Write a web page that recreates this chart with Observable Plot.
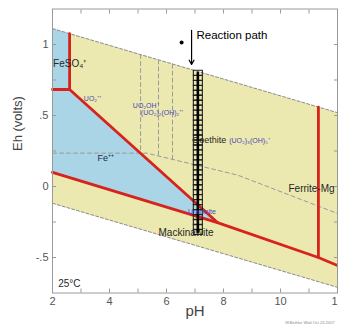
<!DOCTYPE html>
<html><head><meta charset="utf-8">
<script src="https://cdn.jsdelivr.net/npm/d3@7"></script>
<script src="https://cdn.jsdelivr.net/npm/@observablehq/plot@0.6"></script>
<style>html,body{margin:0;padding:0;background:#fff;} svg{display:block;}</style>
</head><body><div id="chart"></div>
<script>
// ---- data ----
const pHDomain = [2, 12];
const ehDomain = [-0.75, 1.25];
const xTicksMajor = [2, 4, 6, 8, 10, 12];
const xTicksMinor = [2, 3, 4, 5, 6, 7, 8, 9, 10, 11, 12];
const yTicksMajor = [-0.5, 0, 0.5, 1];
const yTickLabels = ["-.5", "0", ".5", "1"];
const yTicksMinor = [-0.5, -0.25, 0, 0.25, 0.5, 0.75, 1];

// water stability limits
const waterUpper = [[2, 1.112], [12, 0.52]];
const waterLower = [[2, -0.118], [12, -0.71]];
const stabilityZone = [[2, 1.112], [12, 0.52], [12, -0.71], [2, -0.118], [2, 1.112]];
// aqueous iron fields
const feso4Zone = [[2, 1.112], [2.6, 1.076], [2.6, 0.683], [2, 0.683], [2, 1.112]];
const fe2Zone = [[2, 0.683], [2.6, 0.683], [7.79, -0.254], [2, 0.10], [2, 0.683]];
// iron mineral boundaries (red)
const redBoundaries = [
  [[2.6, 1.076], [2.6, 0.683]],
  [[2, 0.683], [2.6, 0.683], [7.79, -0.254]],
  [[2, 0.10], [7.79, -0.254], [11.33, -0.50], [12, -0.556]],
  [[11.33, 0.559], [11.33, -0.50]]
];
// uranium boundaries (grey dashed)
const uraniumBoundaries = [
  [[2, 0.235], [5.3, 0.235], [8.5, 0.08], [12, -0.19]],
  [[5.09, 0.929], [5.09, 0.235]],
  [[5.72, 0.891], [5.72, 0.215]],
  [[6.21, 0.862], [6.21, 0.191]]
];
// reaction path
const pathPH = 7.1;
const pathEh = [0.800, 0.765, 0.730, 0.695, 0.660, 0.625, 0.590, 0.555, 0.520, 0.485,
  0.450, 0.415, 0.380, 0.345, 0.310, 0.275, 0.240, 0.205, 0.170, 0.135, 0.100, 0.065,
  0.030, -0.005, -0.040, -0.075, -0.110, -0.145, -0.180, -0.215, -0.250, -0.285, -0.320];

// labels
const labelText = ["FeSO₄⁺", "UO₂⁺⁺", "UO₂OH⁺", "(UO₂)₂(OH)₂⁺⁺", "Fe⁺⁺", "Goethite", "(UO₂)₃(OH)₅⁺", "Ferrite-Mg", "Mackinawite", "Uraninite", "25°C"];
const labelPH = [2.02, 3.1, 4.82, 5.1, 3.58, 6.9, 8.2, 10.28, 5.72, 6.75, 2.2];
const labelEh = [0.866, 0.62, 0.57, 0.52, 0.197, 0.324, 0.324, -0.014, -0.324, -0.176, -0.683];
const labelKind = ["dark", "blue", "blue", "blue", "navy", "mid", "blue", "dark", "dark", "blue", "dark"];

// ---- build tables ----
const segs = (list) => list.flatMap((pts, i) => pts.map(([x, y]) => ({x, y, z: i})));
const pts = (list) => list.map(([x, y]) => ({x, y}));
const pathData = pathEh.map(e => ({x: pathPH, y: e}));
const labels = labelText.map((t, i) => ({t, x: labelPH[i], y: labelEh[i], k: labelKind[i]}));
const colorOf = {dark: "#262626", mid: "#262626", blue: "#4646b4", navy: "#1e2850"};
const sizeOf = {dark: 10, mid: 9, blue: 7, navy: 9};

const cell = {draw(ctx) { ctx.rect(-4.5, -2.6, 9, 5.2); }};
const font = "Arial, 'Liberation Sans', Helvetica, sans-serif";

const plot = Plot.plot({
  width: 338, height: 327,
  marginLeft: 52, marginRight: 1, marginTop: 8.5, marginBottom: 34.5,
  x: {domain: pHDomain, label: null},
  y: {domain: ehDomain, label: null},
  style: {fontFamily: font, fontSize: "11px", color: "#555", background: "#fff", overflow: "visible"},
  marks: [
    Plot.line(pts(stabilityZone), {x: "x", y: "y", fill: "#ece9b0", stroke: "none"}),
    Plot.line(pts(feso4Zone), {x: "x", y: "y", fill: "#a9d5e6", stroke: "none"}),
    Plot.line(pts(fe2Zone), {x: "x", y: "y", fill: "#a9d5e6", stroke: "none"}),
    Plot.line(segs([waterUpper, waterLower]), {x: "x", y: "y", z: "z", stroke: "#8a8a8a", strokeWidth: 1, strokeDasharray: "3,2"}),
    Plot.line(segs(uraniumBoundaries), {x: "x", y: "y", z: "z", stroke: "#9a9a9a", strokeWidth: 1, strokeDasharray: "4,3"}),
    Plot.line(segs(redBoundaries), {x: "x", y: "y", z: "z", stroke: "#d8221c", strokeWidth: 2.8, strokeLinejoin: "round"}),
    Plot.dot(pathData, {x: "x", y: "y", symbol: cell, r: 4, stroke: "#222", strokeWidth: 1.1, fill: "none"}),
    Plot.line(pathData, {x: "x", y: "y", stroke: "#000", strokeWidth: 2.6}),
    Plot.text(labels, {x: "x", y: "y", text: "t", textAnchor: "start",
      fill: d => colorOf[d.k], fontSize: d => sizeOf[d.k]}),
    Plot.dot([{x: 6.53, y: 1.014}], {x: "x", y: "y", r: 2, fill: "#000"}),
    Plot.arrow([{x: 6.88, y1: 1.10, y2: 0.86}], {x: "x", y1: "y1", y2: "y2", stroke: "#000", strokeWidth: 1.2, headLength: 6}),
    Plot.text([{x: 7.05, y: 1.063}], {x: "x", y: "y", text: () => "Reaction path", textAnchor: "start", fill: "#000", fontSize: 11.5}),
    Plot.frame({stroke: "#9a9a9a"}),
    Plot.axisX({ticks: xTicksMinor, anchor: "bottom", tickSize: -4, tickFormat: () => "", stroke: "#999"}),
    Plot.axisX({ticks: xTicksMinor, anchor: "top", tickSize: -4, tickFormat: () => "", stroke: "#999"}),
    Plot.axisX({ticks: xTicksMajor, anchor: "bottom", tickSize: 0, tickPadding: 4, tickFormat: d => String(d), fill: "#555"}),
    Plot.axisY({ticks: yTicksMinor, anchor: "left", tickSize: -4, tickFormat: () => "", stroke: "#999"}),
    Plot.axisY({ticks: yTicksMinor, anchor: "right", tickSize: -4, tickFormat: () => "", stroke: "#999"}),
    Plot.axisY({ticks: yTicksMajor, anchor: "left", tickSize: 0, tickPadding: 4, tickFormat: d => yTickLabels[yTicksMajor.indexOf(d)], fill: "#555"}),
    Plot.text(["pH"], {frameAnchor: "bottom", dy: 23, fontSize: 15, fill: "#444"}),
    Plot.text(["Eh (volts)"], {frameAnchor: "left", dx: -35, rotate: -90, fontSize: 13, fill: "#444"}),
    Plot.text(["W.Bethke Wed Oct 24 2007"], {frameAnchor: "bottom-right", dy: 31, dx: -3, textAnchor: "end", fontSize: 4, fill: "#8a8a8a"})
  ]
});
document.getElementById("chart").appendChild(plot);
</script>
</body></html>
